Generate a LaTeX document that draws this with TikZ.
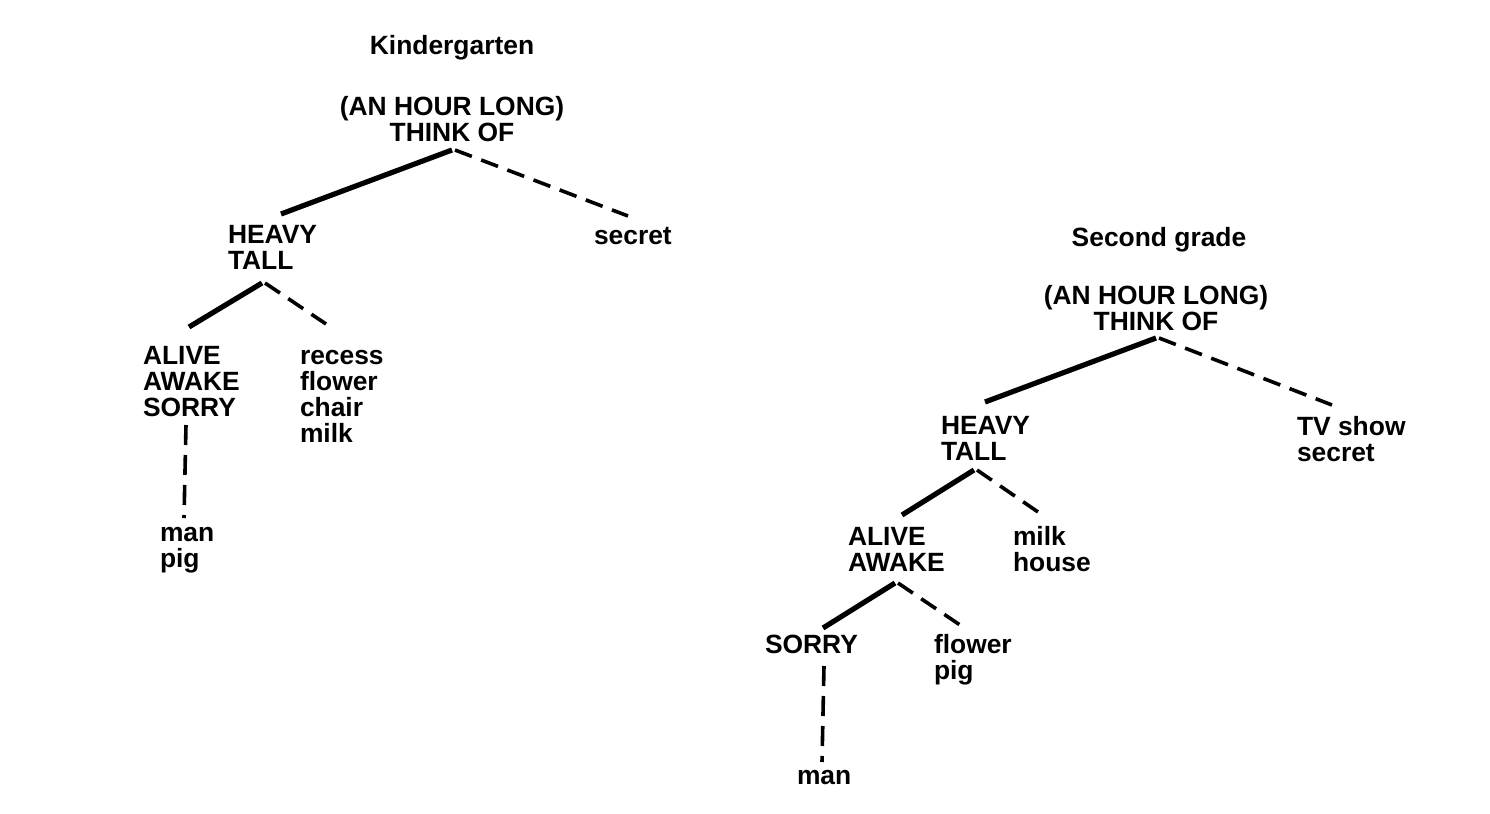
\documentclass[tikz,border=0pt]{standalone}
\usepackage{fontspec}
\setmainfont{Liberation Sans}
\usetikzlibrary{calc}
\newcommand\mytightlines{\lineskiplimit=-100pt\relax\lineskip=0pt\relax}
\newcommand\mytop{\rule{0pt}{10pt}}
\tikzset{
  lbl/.style={inner sep=0pt, outer sep=0pt, align=left, anchor=north west,
    font=\fontsize{13.2}{13}\selectfont\bfseries\mytightlines},
  ttl/.style={lbl, anchor=north, align=center},
  solidedge/.style={line width=2.6pt, line cap=butt},
  dashedge/.style={line width=1.8pt, dash pattern=on 9pt off 5pt, line cap=butt},
  vdashedge/.style={line width=1.8pt, dash pattern=on 10pt off 5pt, line cap=butt},
}
\begin{document}
\begin{tikzpicture}[x=0.5pt,y=-0.5pt]
\useasboundingbox (0,0) rectangle (1490,814);
% Kindergarten tree
\node[ttl] (ktitle) at (452,34) {\mytop Kindergarten};
\node[ttl] (kthink) at (452,95) {\mytop (AN HOUR LONG)\\THINK OF};
\node[lbl] (kheavy) at (228,223) {\mytop HEAVY\\TALL};
\node[lbl] (ksecret) at (594,224) {\mytop secret};
\node[lbl] (kalive) at (143,344) {\mytop ALIVE\\AWAKE\\SORRY};
\node[lbl] (krecess) at (300,344) {\mytop recess\\flower\\chair\\milk};
\node[lbl] (kman) at (160,521) {\mytop man\\pig};
\draw[solidedge] ($(kthink.north)+(0,55)$) -- ($(kheavy.north west)+(53,-9)$);
\draw[dashedge] ($(kthink.north)+(3,55)$) -- ($(ksecret.north west)+(34,-8)$);
\draw[solidedge] ($(kheavy.north west)+(34,60)$) -- ($(kalive.north west)+(46,-17)$);
\draw[dashedge] ($(kheavy.north west)+(37,60)$) -- ($(krecess.north west)+(26,-20)$);
\draw[vdashedge] ($(kalive.north west)+(43,81)$) -- ($(kman.north west)+(24,-3)$);
% Second grade tree
\node[ttl] (stitle) at (1159,226) {\mytop Second grade};
\node[ttl] (sthink) at (1156,284) {\mytop (AN HOUR LONG)\\THINK OF};
\node[lbl] (sheavy) at (941,414) {\mytop HEAVY\\TALL};
\node[lbl] (stv) at (1297,415) {\mytop TV show\\secret};
\node[lbl] (salive) at (848,525) {\mytop ALIVE\\AWAKE};
\node[lbl] (smilk) at (1013,525) {\mytop milk\\house};
\node[lbl] (ssorry) at (765,633) {\mytop SORRY};
\node[lbl] (sflower) at (934,633) {\mytop flower\\pig};
\node[lbl] (sman) at (797,764) {\mytop man};
\draw[solidedge] ($(sthink.north)+(0,54)$) -- ($(sheavy.north west)+(44,-12)$);
\draw[dashedge] ($(sthink.north)+(3,54)$) -- ($(stv.north west)+(35,-10)$);
\draw[solidedge] ($(sheavy.north west)+(33,56)$) -- ($(salive.north west)+(54,-10)$);
\draw[dashedge] ($(sheavy.north west)+(36,56)$) -- ($(smilk.north west)+(25,-13)$);
\draw[solidedge] ($(salive.north west)+(47,58)$) -- ($(ssorry.north west)+(58,-5)$);
\draw[dashedge] ($(salive.north west)+(50,58)$) -- ($(sflower.north west)+(26,-8)$);
\draw[vdashedge] ($(ssorry.north west)+(59,33)$) -- ($(sman.north west)+(25,-2)$);
\end{tikzpicture}
\end{document}
